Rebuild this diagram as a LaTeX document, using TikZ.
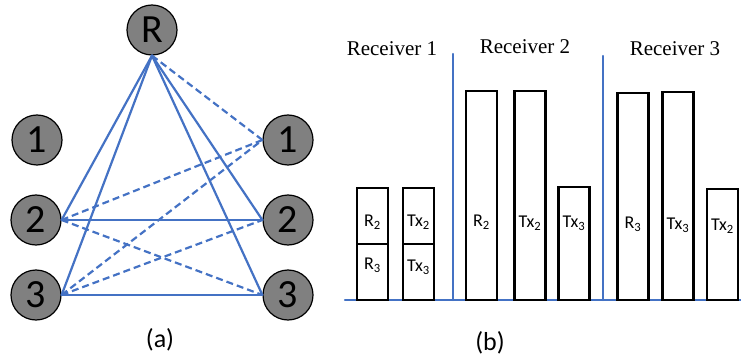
\documentclass[tikz,border=0pt]{standalone}
\usepackage{fontspec}
\setmainfont{Liberation Serif}
\newfontfamily\calib{Carlito}
\definecolor{linkblue}{HTML}{4472C4}
\definecolor{nodegray}{RGB}{128,128,128}

\begin{document}
\begin{tikzpicture}[x=1pt,y=-1pt,line cap=round,
    peer/.style={circle,draw=black,line width=1.2pt,fill=nodegray,minimum size=50pt,
        inner sep=0pt,font=\calib\fontsize{40}{40}\selectfont},
    link/.style={linkblue,line width=2.2pt},
    weak/.style={link,line cap=butt,dash pattern=on 7pt off 4pt},
    bar/.style={draw=black,line width=2.5pt,minimum width=31pt,inner sep=0pt,outer sep=0pt,anchor=south},
    tag/.style={font=\calib\fontsize{18}{18}\selectfont},
    rxlabel/.style={font=\fontsize{21}{21}\selectfont}]

\useasboundingbox (0,0) rectangle (741,358);

        % draw the relay and the two columns of nodes
        \node[peer] (R) at (152,30) {R};
        \node[peer] (L1) at (37,140) {1};
        \node[peer] (L2) at (36,220) {2};
        \node[peer] (L3) at (36,295) {3};
        \node[peer] (D1) at (288,140) {1};
        \node[peer] (D2) at (288,220) {2};
        \node[peer] (D3) at (288,295) {3};

        % solid links
        \draw[link] (R.south) -- (L2.east);
        \draw[link] (R.south) -- (L3.east);
        \draw[link] (R.south) -- (D2.west);
        \draw[link] (R.south) -- (D3.west);
        \draw[link] (L2.east) -- (D2.west);
        \draw[link] (L3.east) -- (D3.west);

        % dashed links
        \draw[weak] (R.south) -- (D1.west);
        \draw[weak] (L2.east) -- (D1.west);
        \draw[weak] (L2.east) -- (D3.west);
        \draw[weak] (L3.east) -- (D1.west);
        \draw[weak] (L3.east) -- (D2.west);

        \node[font=\calib\fontsize{26}{26}\selectfont] (capa) at (160,340) {(a)};

        % draw the base line and the separators
        \draw[link] (345,300) -- (741,300);
        \draw[link] (453,54) -- (453,300);
        \draw[link] (603,56) -- (603,300);

        \node[rxlabel] (rx1) at (392,49) {Receiver 1};
        \node[rxlabel] (rx2) at (525,47) {Receiver 2};
        \node[rxlabel] (rx3) at (675,49) {Receiver 3};

        % receiver 1
        \node[bar,minimum height=56pt] (b1lo) at (372.5,300) {};
        \node[bar,minimum height=56pt] (b1hi) at (b1lo.north) {};
        \node[bar,minimum height=56pt] (b2lo) at (418.5,300) {};
        \node[bar,minimum height=56pt] (b2hi) at (b2lo.north) {};
        \node[tag] (t1) at (372.5,222) {R\textsubscript{2}};
        \node[tag] (t2) at (372.5,265) {R\textsubscript{3}};
        \node[tag] (t3) at (418.5,222) {Tx\textsubscript{2}};
        \node[tag] (t4) at (418.5,267) {Tx\textsubscript{3}};

        % receiver 2
        \node[bar,minimum height=209pt] (b3) at (481.5,300) {};
        \node[bar,minimum height=209pt] (b4) at (530,300) {};
        \node[bar,minimum height=113pt] (b5) at (574,300) {};
        \node[tag] (t5) at (481.5,222) {R\textsubscript{2}};
        \node[tag] (t6) at (530,223) {Tx\textsubscript{2}};
        \node[tag] (t7) at (574,223) {Tx\textsubscript{3}};

        % receiver 3
        \node[bar,minimum height=207pt] (b6) at (633,300) {};
        \node[bar,minimum height=208pt] (b7) at (678,300) {};
        \node[bar,minimum height=111pt] (b8) at (722.5,300) {};
        \node[tag] (t8) at (633,224) {R\textsubscript{3}};
        \node[tag] (t9) at (678,225) {Tx\textsubscript{3}};
        \node[tag] (t10) at (722.5,226) {Tx\textsubscript{2}};

        \node[font=\calib\fontsize{26}{26}\selectfont] (capb) at (490,343) {(b)};
\end{tikzpicture}
\end{document}
